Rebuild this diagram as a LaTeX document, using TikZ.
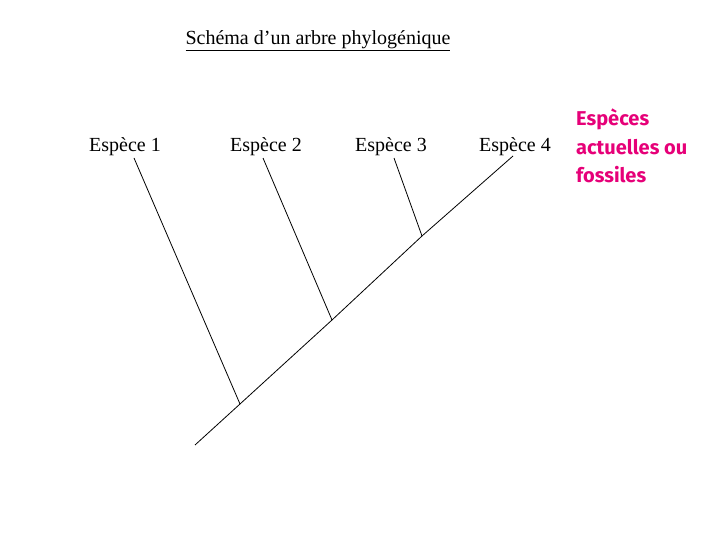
\documentclass[tikz,border=0pt]{standalone}
\usepackage{fontspec}
\setmainfont{Liberation Serif}
\newfontfamily\pinkfont{Fira Sans}
\definecolor{pinkish}{RGB}{230,0,120}
\begin{document}
\begin{tikzpicture}[x=1pt,y=-1pt,
  label/.style={font=\fontsize{20}{22}\selectfont, inner sep=0pt},
  branch/.style={draw=black, line width=0.8pt}]
\useasboundingbox (0,0) rectangle (720,540);
\node[label] (title) at (318,41) {\underline{Schéma d’un arbre phylogénique}};
\node[label] (e1) at (125,147) {Espèce 1};
\node[label] (e2) at (266,147) {Espèce 2};
\node[label] (e3) at (391,147) {Espèce 3};
\node[label] (e4) at (515,147) {Espèce 4};
\node[anchor=north west, align=left, text=pinkish, inner sep=0pt,
  font=\pinkfont\bfseries\fontsize{20}{28.5}\selectfont] (legend) at (576,109)
  {Espèces\\actuelles ou\\fossiles};
\coordinate (root) at (195,445);
\coordinate (j1) at (240,404);
\coordinate (j2) at (332,320);
\coordinate (j3) at (422,236);
\coordinate (t1) at (134,158);
\coordinate (t2) at (263,158);
\coordinate (t3) at (394,158);
\coordinate (t4) at (513,156);
\draw[branch] (root) -- (j1) -- (j2) -- (j3) -- (t4);
\draw[branch] (j1) -- (t1);
\draw[branch] (j2) -- (t2);
\draw[branch] (j3) -- (t3);
\end{tikzpicture}
\end{document}
